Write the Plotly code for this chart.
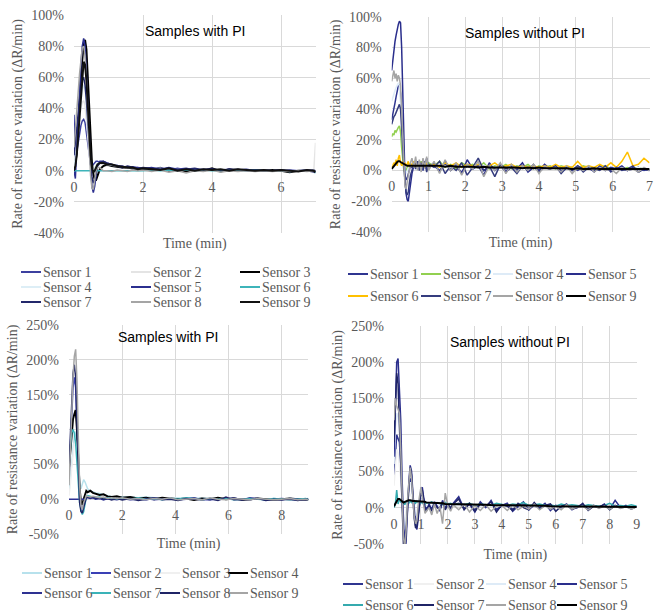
import plotly.graph_objects as go

W, H = 655, 612

# ---------------- data ----------------
# Panel 1: Samples with PI (top-left)
T1 = [0, 0.04, 0.08, 0.12, 0.16, 0.2, 0.24, 0.28, 0.32, 0.36, 0.4, 0.44, 0.48, 0.52, 0.56, 0.6, 0.64, 0.68,
      0.75, 0.85, 0.95, 1.1, 1.25, 1.4, 1.55, 1.7, 1.85, 2.0, 2.25, 2.5, 2.75, 3.0, 3.25, 3.5, 3.75, 4.0,
      4.25, 4.5, 4.75, 5.0, 5.25, 5.5, 5.75, 6.0, 6.25, 6.5, 6.75, 6.95, 7.0]
P1_NAMES = ["Sensor 1", "Sensor 2", "Sensor 3", "Sensor 4", "Sensor 5", "Sensor 6", "Sensor 7", "Sensor 8", "Sensor 9"]
P1_S1 = [36, 5, 12, 18, 24, 29, 32, 33, 31, 24, 15, 8, 4, 3, 4, 5, 6, 6, 5, 4, 4, 3, 3.5, 2, 2.5, 1.5, 2, 1.5,
         1, 2, 0.5, 1.5, 0.5, 1, 0.5, 1, 0.5, 1, 0, 0.5, 0.5, 0, 0.5, 0, 0.5, 0, 0, 0.5, 0]
P1_S2 = [5, 10, 18, 26, 34, 40, 44, 45, 42, 34, 22, 10, 2, -2, -2, 0, 2, 3, 4, 4, 3, 3, 2, 2, 1.5, 1.5, 1, 1,
         1, 0.5, 1, 0.5, 1, 0, 1, 0.5, 0.5, 0, 0.5, 0, 0.5, 0, 0.5, 0, 0, 0, 0.5, 0, 18]
P1_S3 = [2, 5, 12, 25, 42, 60, 74, 82, 84, 78, 60, 38, 18, 5, -2, -6, -6, -3, 1, 3, 4, 3, 2.5, 2, 2, 1.5, 1.5, 1,
         0.5, 1.5, 0, 1, -0.5, 1, 0, 1.5, -0.5, 1, 0.5, 0.5, 0.5, 0, 0.5, 0, -1, 0, 0, 0, -1]
P1_S4 = [2, 8, 16, 26, 36, 45, 52, 55, 52, 42, 28, 14, 4, 0, 0, 2, 4, 5, 5, 5, 4, 3.5, 3, 2.5, 2, 2, 1.5, 1.5,
         1, 1.5, 0.5, 1, 1, 0.5, 1, 0.5, 1, 0, 0.5, 0.5, 0, 0.5, 0, 0.5, 0, 0, 0.5, 0, -2]
P1_S5 = [0, -5, 15, 35, 52, 68, 80, 85, 80, 62, 40, 18, 0, -10, -14, -10, -3, 3, 6, 6, 5, 4, 3, 3, 2, 2.5, 2, 1.5,
         2, 1, 2, 1, 1.5, 0.5, 1, 1, 0, 1, 0.5, 1, 0, 0.5, 0, 0.5, 0, 0, 0.5, 0, 0]
P1_S6 = [0, 0, 0, 0, 0, 0, 0, 0, 0, 0, 0, 0, 0, 0, 0, 0, 0, 0, 0, 0, 0, 0, 0, 0, 0, 0, 0, 0,
         0.5, 0, 0.5, 0, 0.5, 0, 0.5, 0, 0, 0.5, 0, 0, 0.5, 0, 0, 0, -0.5, 0, 0, 0, -1.5]
P1_S7 = [10, 20, 30, 38, 45, 52, 58, 60, 55, 45, 30, 15, 4, -4, -8, -6, -1, 3, 5, 6, 5, 4, 3, 2, 3, 2, 1.5, 2,
         1.5, 1, 1.5, 0.5, 1, 1.5, 0.5, 1, 0.5, 0.5, 1, 0, 0.5, 0, 0, 0.5, -0.5, 0, 0, -0.5, -1]
P1_S8 = [15, 25, 38, 50, 62, 72, 79, 80, 74, 58, 38, 15, -3, -11, -12, -6, 0, 2, 2, 0, 0, -0.5, 0.5, 0, -0.5, 0.5, 0, 0.5,
         -0.5, 0.5, -1, 0, -1.5, 0, -0.5, 0.5, -1, 0, -0.5, 0, -0.5, 0, -0.5, 0, -0.5, 0, -0.5, 0, 0]
P1_S9 = [0, 3, 10, 22, 38, 52, 64, 70, 68, 58, 42, 25, 10, 2, -1, 0, 2, 4, 5, 5, 4, 4, 3, 2.5, 2, 2, 1, 1.5,
         1, 0.5, 1.5, 0, 1, 0, 1, 0.5, 1, 0, 1, 0.5, 0, 0.5, 0, 0.5, 0, -0.5, 0.5, 0, -1]

# Panel 2: Samples without PI (top-right)
T2 = [0, 0.03, 0.06, 0.09, 0.12, 0.15, 0.18, 0.21, 0.24, 0.27, 0.3, 0.33, 0.36, 0.39, 0.42, 0.45, 0.48, 0.51,
      0.55, 0.6, 0.65, 0.7, 0.75, 0.8, 0.85, 0.9, 0.95, 1.0,
      1.15, 1.3, 1.45, 1.6, 1.75, 1.9, 2.05, 2.2, 2.35, 2.5, 2.65, 2.8, 2.95, 3.1, 3.25, 3.4, 3.55, 3.7, 3.85, 4.0,
      4.15, 4.3, 4.45, 4.6, 4.75, 4.9, 5.05, 5.2, 5.35, 5.5, 5.65, 5.8, 5.95, 6.1, 6.25, 6.4, 6.55, 6.7, 6.85, 7.0]
P2_NAMES = ["Sensor 1", "Sensor 2", "Sensor 4", "Sensor 5", "Sensor 6", "Sensor 7", "Sensor 8", "Sensor 9"]
P2_S1 = [33, 36, 40, 44, 48, 52, 55, 56, 50, 35, 18, 5, -3, -6, -5, -2, 1, 3,
         2, 5, 1, 4, 2, 5, 0, 4, 1, 3,
         3, 0, 4, 1, 2, -1, 3, 1, 4, 0, 2, 1, 3, -1, 2, 0, 3, 1, 2, 0,
         2, 1, 3, 0, 1, 2, 0, 2, 1, 0, 2, 1, 0, 2, 1, 0, 1, 2, 0, 1]
P2_S2 = [22, 24, 23, 26, 25, 27, 28, 29, 25, 15, 5, 0, -1, 0, 2, 3, 2, 4,
         3, 5, 2, 4, 3, 6, 2, 4, 3, 5,
         3, 6, 2, 4, 1, 5, 3, 4, 2, 5, 1, 3, 2, 4, 1, 3, 2, 4, 1, 3,
         2, 3, 1, 3, 2, 2, 1, 3, 2, 1, 2, 3, 1, 2, 1, 2, 1, 2, 1, 1]
P2_S4 = [45, 48, 50, 52, 54, 56, 57, 55, 45, 30, 15, 5, 0, -2, 0, 2, 3, 3,
         3, 4, 3, 4, 3, 3, 4, 3, 3, 3,
         3, 2, 3, 2, 3, 2, 3, 2, 2, 3, 2, 2, 3, 2, 2, 2, 3, 2, 2, 2,
         2, 1, 2, 2, 1, 2, 2, 1, 2, 1, 2, 1, 1, 2, 1, 1, 1, 2, 1, 1]
P2_S5 = [65, 72, 78, 84, 88, 92, 95, 97, 96, 80, 50, 20, -5, -15, -19, -20, -15, -8,
         -2, 3, 5, 2, 6, 1, 7, 3, 8, 2,
         5, -1, 6, 0, 4, -2, 7, 1, 3, -3, 5, 0, 4, -1, 3, 1, 5, -1, 2, 0,
         4, 1, 3, -1, 2, 0, 3, 1, 2, -1, 3, 0, 2, 1, 3, 0, 2, -1, 1, 0]
P2_S6 = [2, 3, 5, 4, 7, 3, 8, 10, 5, 3, 6, 2, 5, 3, 4, 6, 2, 5,
         3, 6, 2, 5, 3, 4, 6, 2, 5, 3,
         4, 2, 5, 3, 5, 2, 4, 3, 4, 2, 3, 5, 2, 3, 4, 2, 3, 2, 3, 2,
         3, 2, 4, 2, 3, 2, 6, 2, 3, 2, 4, 2, 5, 2, 6, 12, 3, 4, 8, 5]
P2_S7 = [30, 33, 35, 36, 38, 40, 42, 43, 40, 30, 15, 2, -8, -14, -16, -14, -8, -3,
         0, 4, 2, 6, 0, 5, 1, 6, -1, 4,
         2, 6, -2, 3, 0, 5, -3, 2, 8, 0, 3, -4, 4, 1, 2, -2, 3, 0, 4, -1,
         2, 1, 3, -2, 2, 0, 3, -1, 2, 1, 0, 3, -1, 2, 0, 1, 3, -1, 1, 0]
P2_S8 = [58, 62, 65, 60, 63, 58, 62, 60, 55, 40, 20, 0, -10, -12, -8, -2, 2, 5,
         8, 2, 9, 0, 7, -1, 8, 2, 9, 0,
         6, -2, 7, 0, 5, -3, 4, 1, 6, -4, 3, 0, 5, -2, 4, -1, 3, 0, 4, -2,
         3, 1, 2, -1, 3, -2, 2, 0, 3, -1, 2, 0, 1, -2, 2, 0, 1, -1, 2, 0]
P2_S9 = [1, 2, 3, 4, 5, 5.5, 6, 6, 5.5, 5, 4.5, 4, 3.5, 3.5, 3, 3, 3, 3,
         3, 3, 3, 3, 3, 3, 3, 3, 3, 3,
         3, 3, 2.5, 3, 2.5, 2.5, 2.5, 2.5, 2, 2.5, 2, 2, 2, 2, 2, 2, 1.5, 2, 1.5, 2,
         1.5, 1.5, 1.5, 1.5, 1.5, 1, 1.5, 1, 1, 1.5, 1, 1, 1, 1, 1, 1, 1, 1, 1, 1]

# Panel 3: Samples with PI (bottom-left)
T3 = [0, 0.05, 0.1, 0.15, 0.2, 0.25, 0.3, 0.35, 0.4, 0.45, 0.5, 0.55, 0.6, 0.65, 0.7,
      0.8, 0.9, 1.0, 1.15, 1.3, 1.45, 1.6, 1.8, 2.0,
      2.3, 2.6, 2.9, 3.2, 3.5, 3.8, 4.1, 4.4, 4.7, 5.0, 5.3, 5.6, 5.9, 6.2, 6.5, 6.8, 7.1, 7.4, 7.7, 8.0,
      8.3, 8.6, 8.9, 9.0]
P3_NAMES = ["Sensor 1", "Sensor 2", "Sensor 3", "Sensor 4", "Sensor 6", "Sensor 7", "Sensor 8", "Sensor 9"]
P3_S1 = [10, 30, 55, 75, 90, 97, 85, 55, 25, 15, 20, 28, 25, 18, 15, 12, 10, 9, 8, 6, 5, 4, 4, 3,
         3, 2, 3, 2, 2, 1, 2, 1, 2, 1, 1, 2, 1, 1, 0, 1, 1, 0, 1, 0, 1, 0, 0, 1]
P3_S2 = [30, 70, 120, 160, 175, 160, 100, 35, 0, -12, -15, -8, 0, 3, 4, 3, 2, 3, 1, 2, 0, 2, 0, 1,
         0, 1, -1, 2, 0, 1, -1, 0, 1, 0, -1, 1, 0, 2, -1, 0, 1, -1, 0, 1, 0, -1, 0, 0]
P3_S3 = [5, 20, 45, 65, 80, 85, 70, 40, 10, 0, -3, 2, 5, 6, 5, 4, 4, 3, 3, 2, 2, 2, 1, 1,
         1, 1, 0, 1, 0, 1, 0, 1, 0, 0, 1, 0, 0, 1, 0, 0, 0, 1, 0, 0, 0, 0, 0, 0]
P3_S4 = [45, 65, 90, 115, 122, 128, 100, 55, 15, -5, -8, 0, 6, 12, 10, 12, 9, 8, 6, 7, 4, 3, 4, 2,
         3, 1, 2, 0, 2, 1, 0, 1, -1, 1, 0, 2, 0, 1, -1, 0, 1, 0, -1, 0, 1, 0, -1, 0]
P3_S6 = [0, 0, 0, 0, 0, 0, 0, 0, 0, 0, 0, 0, -2, 3, 2, 1, 2, 0, 1, -1, 1, 0, -1, 1,
         -1, 0, 1, -1, 0, 1, -1, 0, 2, -1, 0, -1, 1, 0, -1, 2, 0, -1, 0, -1, 1, 0, -1, 0]
P3_S7 = [50, 75, 95, 100, 95, 80, 50, 15, -5, -15, -22, -18, -5, 3, 5, 4, 3, 2, 3, 1, 2, 1, 0, 1,
         0, 2, 0, 1, -1, 1, 0, 2, 0, -1, 1, 0, 1, -1, 0, 1, 0, -1, 1, 0, -1, 0, 1, -1]
P3_S8 = [45, 85, 135, 180, 193, 175, 110, 40, -5, -18, -20, -12, -3, 2, 3, 2, 3, 1, 2, 0, 1, -1, 1, -1,
         1, -2, 0, 2, -1, 0, -2, 1, 0, -1, 1, -2, 3, -1, 0, -1, 1, -2, 0, -1, 0, -2, 0, -1]
P3_S9 = [20, 60, 120, 175, 205, 215, 170, 90, 20, -10, -15, -5, 2, 5, 4, 3, 4, 3, 2, 3, 1, 2, 1, 2,
         0, 1, -1, 1, 0, 2, -1, 0, 1, -1, 2, 0, -1, 1, 0, -1, 1, 0, -1, 0, 1, -1, 0, -1]

# Panel 4: Samples without PI (bottom-right)
T4 = [0, 0.05, 0.1, 0.15, 0.2, 0.25, 0.3, 0.35, 0.4, 0.45, 0.5, 0.55, 0.6, 0.65, 0.7, 0.75, 0.8, 0.85, 0.9,
      0.95, 1.0, 1.05, 1.1, 1.15, 1.2,
      1.3, 1.4, 1.5, 1.6, 1.7, 1.8, 1.9, 2.0, 2.1, 2.2,
      2.4, 2.6, 2.8, 3.0, 3.2, 3.4, 3.6, 3.8, 4.0, 4.2, 4.4, 4.6, 4.8, 5.0, 5.2, 5.4, 5.6, 5.8, 6.0, 6.2,
      6.4, 6.6, 6.8, 7.0, 7.2, 7.4, 7.6, 7.8, 8.0, 8.2, 8.4, 8.6, 8.8, 9.0]
P4_NAMES = ["Sensor 1", "Sensor 2", "Sensor 4", "Sensor 5", "Sensor 6", "Sensor 7", "Sensor 8", "Sensor 9"]
P4_S1 = [40, 80, 100, 95, 90, 60, 10, -30, -45, -20, 10, 30, 40, 35, 15, -5, -18, -20, -8, 8, 15, 18, 10, 2, -2,
         4, 0, 5, 2, -3, 6, 1, 3, -1, 4,
         6, 0, 3, -3, 5, 1, 4, -2, 2, 3, -2, 1, 4, -1, 2, 0, 3, -2, 2, 0, 3, -1, 1, 2, -1, 2, 0, 3, -1, 2,
         0, 1, -1, 1]
P4_S2 = [30, 60, 80, 75, 60, 40, 10, -15, -20, -5, 8, 15, 18, 15, 8, 0, -5, -4, 2, 6, 8, 8, 5, 3, 2,
         3, 2, 3, 2, 2, 3, 2, 2, 2, 2,
         2, 1, 2, 1, 2, 1, 2, 1, 1, 2, 1, 1, 2, 1, 1, 1, 2, 1, 1, 1, 1, 1, 1, 1, 1, 1, 0, 1, 1, 0,
         1, 1, 0, 1]
P4_S4 = [60, 110, 130, 125, 110, 70, 20, -20, -30, -10, 15, 30, 35, 30, 12, -2, -10, -10, 0, 10, 14, 15, 8, 3, 2,
         4, 2, 5, 3, 1, 5, 2, 4, 2, 4,
         4, 3, 4, 2, 3, 3, 4, 2, 3, 3, 2, 3, 3, 2, 3, 2, 3, 2, 2, 3, 2, 2, 2, 3, 2, 2, 2, 2, 1, 2,
         2, 1, 2, 1]
P4_S5 = [70, 140, 200, 205, 170, 120, 40, -40, -70, -45, 0, 35, 58, 50, 20, -10, -25, -30, -15, 10, 25, 28, 15, 0, -5,
         5, -3, 8, 2, -5, 10, 0, 5, -3, 6,
         15, -2, 5, -6, 8, 0, 10, -4, 3, 6, -5, 2, 8, -3, 4, 0, 6, -4, 3, 1, 5, -3, 2, 4, -2, 3, 0, 5, -2, 10,
         0, 3, -2, 2]
P4_S6 = [0, 5, 24, 5, 12, 8, 10, 6, 4, 8, 10, 6, 9, 7, 10, 8, 6, 9, 7, 5, 8, 6, 9, 5, 7,
         6, 8, 5, 7, 6, 4, 7, 5, 6, 4,
         5, 4, 6, 3, 5, 4, 3, 6, 4, 3, 5, 4, 7, 3, 4, 5, 3, 4, 2, 5, 3, 4, 3, 2, 4, 3, 2, 3, 6, 2,
         3, 2, 4, 2]
P4_S7 = [90, 150, 185, 170, 120, 60, 0, -50, -60, -30, 5, 40, 55, 45, 15, -15, -28, -25, -10, 12, 22, 24, 10, -2, -4,
         3, -5, 6, 0, -2, 8, -3, 4, 0, 5,
         12, -3, 6, -5, 5, 2, 8, -6, 4, 2, -4, 6, 0, -3, 7, -2, 3, 5, -5, 2, 4, -2, 0, 6, -4, 2, 1, 4, -3, 3,
         0, 2, -1, 1]
P4_S8 = [120, 150, 140, 135, 130, 80, 10, -40, -55, -30, 10, 40, 55, 40, 10, -12, -22, -18, 5, 20, 28, 15, 0, -8, -5,
         0, -10, 5, -8, 2, -22, 20, 2, -5, 4,
         -3, 5, -6, 3, -4, 4, -5, 2, 3, -4, 4, -3, 2, -2, 5, -3, 3, -2, 2, -3, 4, -2, 1, 2, -3, 3, -1, 2, -2, 2,
         -1, 1, -2, 1]
P4_S9 = [2, 6, 10, 12, 12, 10, 8, 7, 8, 9, 10, 10, 10, 9, 9, 9, 9, 8, 8, 8, 8, 8, 8, 8, 7,
         7, 7, 7, 6, 6, 6, 5, 5, 5, 5,
         5, 4.5, 4.5, 4, 4, 4, 3.5, 3.5, 3.5, 3, 3, 3, 3, 2.5, 2.5, 2.5, 2.5, 2, 2, 2, 2, 2, 2, 2, 1.5, 1.5,
         1.5, 1.5, 1.5, 1.5, 1, 1, 1, 1]

TOP_YTICKS = [-40, -20, 0, 20, 40, 60, 80, 100]
TOP_YTEXT = ["-40%", "-20%", "0%", "20%", "40%", "60%", "80%", "100%"]
BOT_YTICKS = [-50, 0, 50, 100, 150, 200, 250]
BOT_YTEXT = ["-50%", "0%", "50%", "100%", "150%", "200%", "250%"]
TITLES = ["Samples with PI", "Samples without PI", "Samples with PI", "Samples without PI"]
X_TITLE = "Time (min)"
Y_TITLE = "Rate of resistance variation (ΔR/min)"

# ---------------- styles ----------------
P1_COLORS = ["#3C409F", "#E4E4E4", "#000000", "#DDEEF6", "#2B2F8F", "#3DB4B9", "#23286B", "#A5A5A5", "#111111"]
P2_COLORS = ["#2F3590", "#92D050", "#DEEBF7", "#2A2E8C", "#FFC000", "#353C7E", "#A5A5A5", "#000000"]
P3_COLORS = ["#B7E1EC", "#3A40B5", "#F0F0F0", "#000000", "#2E3192", "#3AB3B8", "#1F2466", "#A5A5A5"]
P4_COLORS = ["#2F3590", "#F0F0F0", "#DEEBF7", "#2A2E8C", "#35AAAE", "#1F2466", "#A5A5A5", "#000000"]

SERIF = "Liberation Serif"
SANS = "Liberation Sans"
GREY_TXT = "#595959"
GRID = "#D9D9D9"

panels = [
    dict(t=T1, names=P1_NAMES, colors=P1_COLORS,
         series=[P1_S1, P1_S2, P1_S3, P1_S4, P1_S5, P1_S6, P1_S7, P1_S8, P1_S9],
         box=(74, 315.5, 15, 233), xr=[0, 7], dtick=2, yr=[-40, 100], yt=(TOP_YTICKS, TOP_YTEXT),
         title_xy=(195, 31), xstand=44,
         leg_x=[43, 153, 262], leg_y=[272, 287, 302], ncol=3),
    dict(t=T2, names=P2_NAMES, colors=P2_COLORS,
         series=[P2_S1, P2_S2, P2_S4, P2_S5, P2_S6, P2_S7, P2_S8, P2_S9],
         box=(391.7, 649.5, 16.7, 232), xr=[0, 7], dtick=1, yr=[-40, 100], yt=(TOP_YTICKS, TOP_YTEXT),
         title_xy=(525, 33), xstand=43,
         leg_x=[370, 443, 515, 588], leg_y=[274, 296], ncol=4),
    dict(t=T3, names=P3_NAMES, colors=P3_COLORS,
         series=[P3_S1, P3_S2, P3_S3, P3_S4, P3_S6, P3_S7, P3_S8, P3_S9],
         box=(69, 308.4, 325, 534), xr=[0, 9], dtick=2, yr=[-50, 250], yt=(BOT_YTICKS, BOT_YTEXT),
         title_xy=(167.5, 337), xstand=16,
         leg_x=[44, 113, 182, 250], leg_y=[573, 593], ncol=4),
    dict(t=T4, names=P4_NAMES, colors=P4_COLORS,
         series=[P4_S1, P4_S2, P4_S4, P4_S5, P4_S6, P4_S7, P4_S8, P4_S9],
         box=(394, 636.7, 325.7, 544), xr=[0, 9], dtick=1, yr=[-50, 250], yt=(BOT_YTICKS, BOT_YTEXT),
         title_xy=(509.5, 342), xstand=18,
         leg_x=[365, 436, 508, 579], leg_y=[584, 605], ncol=4),
]


def fx(px):
    return px / W


def fy(py):
    return 1 - py / H


fig = go.Figure()
layout = dict(template="none", width=W, height=H, margin=dict(l=0, r=0, t=0, b=0, pad=0, autoexpand=False),
              paper_bgcolor="white", plot_bgcolor="white", showlegend=False,
              font=dict(family=SERIF, size=14, color=GREY_TXT))
annotations = []
shapes = []

for i, p in enumerate(panels):
    k = "" if i == 0 else str(i + 1)
    x0, x1, y0, y1 = p["box"]
    xdom = [fx(x0), fx(x1)]
    ydom = [fy(y1), fy(y0)]
    ymin, ymax = p["yr"]
    zero_pos = ydom[0] + (0 - ymin) / (ymax - ymin) * (ydom[1] - ydom[0])
    for name, col, vals in zip(p["names"], p["colors"], p["series"]):
        black = col in ("#000000", "#111111")
        fig.add_trace(go.Scatter(x=p["t"], y=vals, mode="lines", name=name,
                                 line=dict(color=col, width=2 if black else 1.5),
                                 xaxis="x" + k, yaxis="y" + k))
    layout["xaxis" + k] = dict(
        domain=xdom, range=p["xr"], dtick=p["dtick"], tick0=0, anchor="free", position=zero_pos,
        showgrid=True, gridcolor=GRID, gridwidth=1, zeroline=False, showline=False, ticks="",
        automargin=False, ticklabelstandoff=6, ticklabeloverflow="allow",
        tickfont=dict(family=SERIF, size=14, color=GREY_TXT),
        title=dict(text=X_TITLE, font=dict(family=SERIF, size=14, color=GREY_TXT), standoff=p["xstand"]),
        fixedrange=True)
    layout["yaxis" + k] = dict(
        domain=ydom, range=p["yr"], tickvals=p["yt"][0], ticktext=p["yt"][1], anchor="x" + k,
        showgrid=True, gridcolor=GRID, gridwidth=1, zeroline=False, showline=False, ticks="",
        automargin=False, ticklabelstandoff=9,
        tickfont=dict(family=SERIF, size=14, color=GREY_TXT),
        title=dict(text=Y_TITLE, font=dict(family=SERIF, size=14, color=GREY_TXT), standoff=5),
        fixedrange=True)
    tx, ty = p["title_xy"]
    annotations.append(dict(x=fx(tx), y=fy(ty), xref="paper", yref="paper", text=TITLES[i],
                            showarrow=False, xanchor="center", yanchor="middle",
                            font=dict(family=SANS, size=14, color="#000000")))
    # compact Excel-style legend rows under each chart
    for j, (name, col) in enumerate(zip(p["names"], p["colors"])):
        r, c = divmod(j, p["ncol"])
        lx = p["leg_x"][c]
        ly = p["leg_y"][r]
        shapes.append(dict(type="line", xref="paper", yref="paper",
                           x0=fx(lx - 22), x1=fx(lx - 2), y0=fy(ly), y1=fy(ly),
                           line=dict(color=col, width=2)))
        annotations.append(dict(x=fx(lx - 2), y=fy(ly), xref="paper", yref="paper", text=name,
                                showarrow=False, xanchor="left", yanchor="middle",
                                font=dict(family=SERIF, size=14, color=GREY_TXT)))

layout["annotations"] = annotations
layout["shapes"] = shapes
fig.update_layout(**layout)
fig.write_html("out.html")
